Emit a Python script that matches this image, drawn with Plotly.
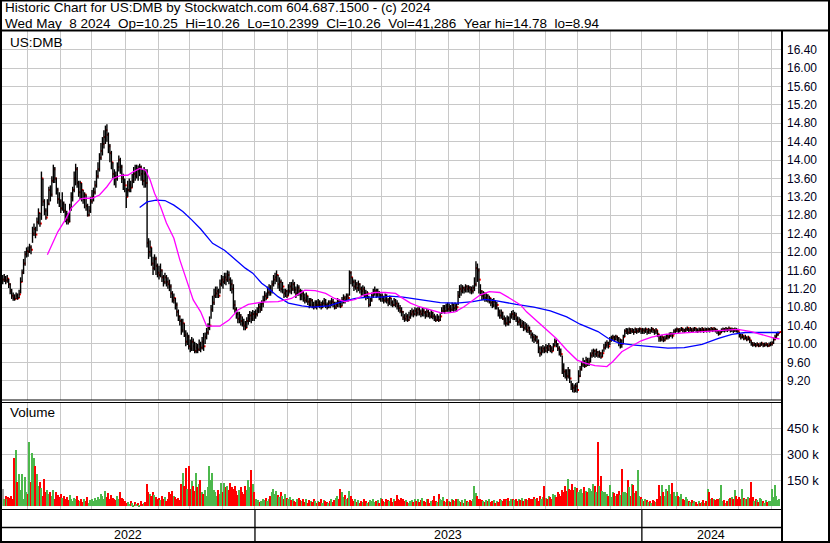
import pandas as pd
import plotly.graph_objects as go

W, H = 830, 543

# one bar per business day, 9 May 2022 .. 8 May 2024
dates = pd.bdate_range("2022-05-09", "2024-05-08")

close = [
    11.40, 11.45, 11.38, 11.42, 11.30, 11.15, 11.05, 11.00, 10.98, 11.05, 11.00, 11.08, 11.35, 11.55, 11.75, 11.95, 12.02,
    12.00, 12.10, 12.05, 12.40, 12.50, 12.38, 12.65, 12.85, 12.62, 13.60, 13.10, 12.90, 12.75, 13.05, 13.35, 13.25, 13.55, 13.80, 13.60, 13.35, 13.15, 13.10,
    12.95, 13.05, 12.90, 12.75, 12.70, 12.66, 12.95, 13.20, 13.35, 13.60, 13.80, 13.50, 13.30, 13.50, 13.35, 13.15, 13.25, 13.00, 12.80, 12.90, 13.10,
    13.20, 13.30, 13.45, 13.65, 13.80, 14.05, 14.20, 14.35, 14.50, 14.65, 14.55, 14.30, 14.15, 13.95, 13.70, 13.65, 13.60, 13.85, 14.00, 13.85, 13.60, 13.50, 13.45,
    13.20, 13.35, 13.45, 13.40, 13.55, 13.70, 13.65, 13.80, 13.75, 13.85, 13.70, 13.55, 13.70, 13.50, 12.20, 12.00, 12.10, 11.75, 11.65, 11.85, 11.70, 11.55,
    11.50, 11.60, 11.45, 11.35, 11.45, 11.35, 11.30, 11.25, 11.10, 10.95, 11.00, 10.85, 10.70, 10.60, 10.50, 10.30, 10.45, 10.20, 10.05, 10.15, 9.95,
    9.90, 10.05, 9.95, 9.85, 9.92, 9.88, 10.00, 9.92, 10.05, 9.95, 10.15, 10.25, 10.35, 10.40, 10.75, 10.90, 11.05, 11.10, 11.15, 11.05, 11.30, 11.40,
    11.35, 11.45, 11.40, 11.50, 11.40, 11.30, 11.20, 10.85, 10.75, 10.65, 10.55, 10.60, 10.50, 10.45, 10.40, 10.35, 10.50, 10.55, 10.62, 10.55, 10.65, 10.60,
    10.65, 10.72, 10.80, 10.75, 10.88, 10.95, 11.05, 11.00, 11.12, 11.20, 11.15, 11.30, 11.40, 11.45, 11.50, 11.30, 11.35, 11.20, 11.25, 11.10, 11.15, 11.05,
    11.15, 11.25, 11.20, 11.30, 11.18, 11.10, 11.22, 11.15, 11.05, 11.10, 11.00, 10.95, 11.05, 10.92, 10.85, 10.95, 10.85, 10.80, 10.90, 10.85,
    10.90, 10.85, 10.80, 10.88, 10.95, 10.85, 10.80, 10.90, 10.85, 10.92, 10.88, 10.80, 10.85, 10.92, 10.88, 10.82, 10.95, 11.00, 10.95, 11.05, 11.00, 11.55, 11.45,
    11.35, 11.25, 11.30, 11.22, 11.30, 11.20, 11.15, 11.20, 11.10, 11.05, 11.10, 10.85, 10.95, 11.05, 11.10, 11.15, 11.08, 11.12, 11.00, 11.05,
    11.00, 10.95, 11.05, 10.95, 10.90, 11.00, 10.90, 10.85, 10.95, 10.88, 10.82, 10.78, 10.72, 10.70, 10.58, 10.55, 10.60, 10.52, 10.58, 10.65, 10.70, 10.65, 10.72,
    10.68, 10.75, 10.70, 10.65, 10.72, 10.68, 10.62, 10.70, 10.65, 10.60, 10.68, 10.60, 10.56, 10.52, 10.58, 10.52, 10.60, 10.72, 10.78, 10.72, 10.82, 10.76,
    10.80, 10.75, 10.85, 10.78, 10.82, 10.80, 11.05, 11.20, 11.15, 11.22, 11.18, 11.25, 11.20, 11.22, 11.18, 11.15, 11.22, 11.30, 11.65, 11.60, 11.40,
    11.15, 11.05, 11.10, 11.00, 11.05, 10.95, 11.00, 10.90, 10.85, 10.92, 10.82, 10.85, 10.70, 10.62, 10.68, 10.55, 10.50, 10.45, 10.55, 10.48, 10.60, 10.65, 10.58,
    10.62, 10.55, 10.48, 10.52, 10.40, 10.45, 10.35, 10.40, 10.30, 10.35, 10.28, 10.20, 10.15, 10.10, 10.15, 10.05, 9.90, 9.80, 9.85, 9.90, 9.85,
    9.92, 9.88, 9.95, 9.90, 9.85, 9.95, 10.05, 10.00, 9.90, 9.82, 9.78, 9.45, 9.40, 9.35, 9.30, 9.42, 9.25, 9.10, 9.05, 8.98, 9.08, 9.00,
    9.30, 9.45, 9.55, 9.60, 9.52, 9.65, 9.58, 9.62, 9.75, 9.80, 9.85, 9.78, 9.82, 9.75, 9.80, 9.72, 9.80, 9.92, 9.98, 10.02, 9.95, 10.08,
    10.12, 10.15, 10.10, 10.16, 10.12, 10.02, 10.08, 10.00, 10.15, 10.28, 10.30, 10.25, 10.32, 10.28, 10.30, 10.26, 10.32, 10.28, 10.30, 10.33, 10.28,
    10.30, 10.28, 10.32, 10.26, 10.30, 10.28, 10.33, 10.30, 10.27, 10.30, 10.22, 10.12, 10.10, 10.15, 10.08, 10.12, 10.18, 10.15, 10.20, 10.22, 10.18, 10.28, 10.30,
    10.32, 10.28, 10.30, 10.34, 10.30, 10.28, 10.32, 10.35, 10.30, 10.33, 10.29, 10.31, 10.34, 10.30, 10.28, 10.32, 10.30, 10.33, 10.29, 10.31, 10.30,
    10.32, 10.30, 10.34, 10.31, 10.33, 10.30, 10.28, 10.22, 10.25, 10.30, 10.32, 10.30, 10.33, 10.31, 10.34, 10.30, 10.32, 10.29, 10.31, 10.30, 10.28,
    10.20, 10.15, 10.18, 10.12, 10.15, 10.10, 10.14, 10.08, 10.02, 9.98, 10.00, 9.97, 10.00, 9.96, 9.99, 10.01, 9.97, 9.98, 10.00, 9.96, 9.98, 10.00,
    10.02, 10.10, 10.15, 10.20, 10.24, 10.26,
]

high = [
    11.50, 11.52, 11.48, 11.50, 11.42, 11.32, 11.20, 11.12, 11.08, 11.12, 11.10, 11.18, 11.45, 11.62, 11.85, 12.02, 12.10,
    12.12, 12.18, 12.15, 12.55, 12.62, 12.55, 12.75, 12.95, 12.85, 13.75, 13.60, 13.15, 12.95, 13.15, 13.42, 13.45, 13.65, 13.90, 13.85, 13.62, 13.40, 13.30,
    13.15, 13.30, 13.10, 13.05, 12.90, 12.85, 13.05, 13.30, 13.42, 13.75, 13.92, 13.85, 13.55, 13.55, 13.50, 13.35, 13.30, 13.25, 13.05, 13.00, 13.20,
    13.35, 13.40, 13.55, 13.78, 13.95, 14.15, 14.37, 14.50, 14.65, 14.75, 14.78, 14.60, 14.35, 14.20, 13.95, 13.80, 13.75, 13.95, 14.10, 14.05, 13.90, 13.70, 13.60,
    13.40, 13.55, 13.60, 13.55, 13.70, 13.85, 13.90, 13.90, 13.88, 13.92, 13.88, 13.80, 13.85, 13.80, 13.80, 12.30, 12.25, 12.10, 11.90, 11.95, 11.90, 11.75,
    11.70, 11.75, 11.62, 11.50, 11.55, 11.50, 11.45, 11.40, 11.30, 11.15, 11.10, 11.00, 10.90, 10.75, 10.62, 10.55, 10.55, 10.45, 10.30, 10.25, 10.20,
    10.10, 10.15, 10.12, 10.05, 10.02, 10.00, 10.10, 10.05, 10.15, 10.24, 10.25, 10.35, 10.45, 10.60, 10.85, 11.05, 11.20, 11.25, 11.25, 11.20, 11.40, 11.50,
    11.48, 11.55, 11.55, 11.60, 11.58, 11.45, 11.40, 11.30, 10.95, 10.80, 10.70, 10.70, 10.65, 10.60, 10.55, 10.50, 10.58, 10.65, 10.72, 10.70, 10.74, 10.72,
    10.75, 10.80, 10.88, 10.90, 10.95, 11.05, 11.15, 11.12, 11.25, 11.30, 11.28, 11.38, 11.50, 11.55, 11.60, 11.50, 11.45, 11.40, 11.35, 11.20, 11.20, 11.18,
    11.30, 11.35, 11.35, 11.40, 11.35, 11.25, 11.30, 11.28, 11.20, 11.18, 11.15, 11.10, 11.12, 11.05, 11.00, 11.00, 10.98, 10.92, 10.95, 10.95,
    10.98, 10.95, 10.92, 10.95, 11.00, 10.98, 10.90, 10.95, 10.95, 11.00, 10.98, 10.92, 10.92, 11.00, 10.98, 10.95, 11.02, 11.08, 11.05, 11.10, 11.10, 11.60, 11.58,
    11.45, 11.40, 11.40, 11.35, 11.38, 11.32, 11.25, 11.28, 11.25, 11.18, 11.15, 11.05, 11.00, 11.12, 11.20, 11.25, 11.20, 11.20, 11.15, 11.10,
    11.10, 11.05, 11.10, 11.08, 11.00, 11.05, 11.00, 10.95, 11.00, 10.98, 10.95, 10.90, 10.85, 10.80, 10.72, 10.65, 10.68, 10.65, 10.70, 10.74, 10.78, 10.75, 10.80,
    10.78, 10.80, 10.80, 10.75, 10.80, 10.78, 10.72, 10.76, 10.75, 10.70, 10.74, 10.70, 10.66, 10.62, 10.65, 10.62, 10.67, 10.80, 10.85, 10.85, 10.88, 10.90,
    10.88, 10.85, 10.90, 10.88, 10.90, 10.88, 11.15, 11.28, 11.30, 11.28, 11.25, 11.30, 11.28, 11.28, 11.26, 11.25, 11.28, 11.45, 11.80, 11.75, 11.65,
    11.30, 11.17, 11.15, 11.12, 11.10, 11.08, 11.05, 11.00, 10.98, 11.00, 10.95, 10.92, 10.80, 10.75, 10.75, 10.70, 10.62, 10.58, 10.62, 10.60, 10.67, 10.72, 10.74,
    10.70, 10.68, 10.60, 10.58, 10.55, 10.52, 10.50, 10.48, 10.45, 10.42, 10.38, 10.30, 10.25, 10.22, 10.20, 10.18, 10.10, 9.95, 9.95, 9.98, 9.95,
    10.00, 9.98, 10.02, 9.98, 9.95, 10.02, 10.12, 10.10, 10.02, 9.95, 9.90, 9.75, 9.58, 9.45, 9.45, 9.50, 9.45, 9.20, 9.15, 9.12, 9.15, 9.17,
    9.43, 9.52, 9.62, 9.70, 9.65, 9.72, 9.70, 9.70, 9.82, 9.88, 9.90, 9.88, 9.90, 9.85, 9.86, 9.82, 9.88, 10.00, 10.05, 10.08, 10.05, 10.15,
    10.18, 10.20, 10.18, 10.20, 10.18, 10.15, 10.12, 10.10, 10.20, 10.32, 10.35, 10.34, 10.36, 10.34, 10.35, 10.33, 10.36, 10.34, 10.35, 10.36, 10.34,
    10.35, 10.34, 10.36, 10.33, 10.35, 10.33, 10.37, 10.35, 10.32, 10.35, 10.30, 10.22, 10.18, 10.20, 10.16, 10.18, 10.22, 10.22, 10.25, 10.26, 10.25, 10.32, 10.34,
    10.36, 10.34, 10.35, 10.37, 10.35, 10.33, 10.36, 10.38, 10.35, 10.37, 10.34, 10.36, 10.37, 10.35, 10.34, 10.36, 10.35, 10.37, 10.34, 10.36, 10.35,
    10.36, 10.35, 10.37, 10.35, 10.37, 10.35, 10.33, 10.30, 10.30, 10.34, 10.36, 10.35, 10.37, 10.35, 10.38, 10.35, 10.36, 10.34, 10.36, 10.35, 10.33,
    10.26, 10.22, 10.22, 10.18, 10.20, 10.16, 10.18, 10.14, 10.08, 10.04, 10.04, 10.02, 10.04, 10.01, 10.03, 10.05, 10.02, 10.03, 10.04, 10.01, 10.03, 10.05,
    10.06, 10.14, 10.20, 10.24, 10.27, 10.26,
]

low = [
    11.30, 11.35, 11.30, 11.33, 11.22, 11.08, 10.98, 10.94, 10.94, 10.98, 10.96, 11.00, 11.10, 11.35, 11.52, 11.70, 11.88,
    11.90, 11.98, 11.95, 12.20, 12.35, 12.30, 12.45, 12.60, 12.55, 12.70, 13.00, 12.80, 12.70, 12.78, 13.02, 13.10, 13.20, 13.50, 13.50, 13.25, 13.05, 12.98,
    12.85, 12.90, 12.85, 12.65, 12.60, 12.60, 12.65, 12.90, 13.10, 13.30, 13.45, 13.40, 13.20, 13.15, 13.10, 13.05, 12.95, 12.90, 12.77, 12.78, 12.85,
    13.05, 13.10, 13.25, 13.40, 13.60, 13.75, 14.00, 14.10, 14.25, 14.35, 14.40, 14.15, 13.95, 13.80, 13.60, 13.45, 13.40, 13.55, 13.75, 13.70, 13.50, 13.35, 13.30,
    12.96, 13.20, 13.30, 13.30, 13.40, 13.50, 13.55, 13.60, 13.55, 13.65, 13.55, 13.45, 13.40, 13.40, 12.10, 11.85, 11.90, 11.70, 11.50, 11.60, 11.50, 11.45,
    11.40, 11.45, 11.35, 11.25, 11.30, 11.25, 11.20, 11.15, 11.00, 10.90, 10.88, 10.75, 10.60, 10.50, 10.40, 10.20, 10.25, 10.15, 9.95, 9.98, 9.88,
    9.82, 9.85, 9.85, 9.80, 9.80, 9.80, 9.85, 9.82, 9.88, 9.85, 10.00, 10.10, 10.20, 10.30, 10.55, 10.70, 10.85, 11.00, 11.00, 11.00, 11.10, 11.25,
    11.20, 11.30, 11.28, 11.35, 11.30, 11.15, 11.10, 10.75, 10.68, 10.55, 10.45, 10.45, 10.40, 10.38, 10.30, 10.30, 10.35, 10.42, 10.48, 10.45, 10.50, 10.50,
    10.55, 10.60, 10.67, 10.68, 10.72, 10.80, 10.92, 10.95, 11.00, 11.05, 11.05, 11.10, 11.25, 11.30, 11.35, 11.20, 11.15, 11.12, 11.10, 11.00, 11.02, 11.00,
    11.05, 11.10, 11.08, 11.15, 11.10, 11.00, 11.05, 11.05, 10.95, 10.95, 10.92, 10.88, 10.90, 10.85, 10.78, 10.80, 10.78, 10.75, 10.78, 10.75,
    10.80, 10.78, 10.75, 10.78, 10.82, 10.78, 10.75, 10.78, 10.78, 10.82, 10.80, 10.75, 10.76, 10.80, 10.80, 10.78, 10.82, 10.88, 10.88, 10.92, 10.92, 11.05, 11.30,
    11.25, 11.15, 11.18, 11.12, 11.15, 11.10, 11.05, 11.05, 11.00, 10.95, 10.98, 10.80, 10.82, 10.92, 11.00, 11.05, 11.00, 11.02, 10.95, 10.92,
    10.92, 10.88, 10.90, 10.88, 10.82, 10.85, 10.82, 10.80, 10.82, 10.80, 10.75, 10.70, 10.67, 10.60, 10.52, 10.48, 10.50, 10.48, 10.50, 10.55, 10.60, 10.58, 10.62,
    10.60, 10.62, 10.62, 10.58, 10.60, 10.60, 10.55, 10.58, 10.58, 10.55, 10.56, 10.54, 10.50, 10.48, 10.50, 10.48, 10.50, 10.65, 10.68, 10.66, 10.70, 10.70,
    10.70, 10.68, 10.72, 10.70, 10.72, 10.70, 10.85, 11.00, 11.05, 11.10, 11.10, 11.12, 11.12, 11.12, 11.10, 11.08, 11.10, 11.15, 11.25, 11.35, 11.10,
    11.05, 10.95, 10.95, 10.92, 10.92, 10.90, 10.88, 10.82, 10.78, 10.80, 10.75, 10.75, 10.60, 10.55, 10.55, 10.52, 10.42, 10.38, 10.40, 10.40, 10.45, 10.55, 10.52,
    10.52, 10.48, 10.40, 10.40, 10.35, 10.35, 10.28, 10.30, 10.25, 10.24, 10.20, 10.12, 10.05, 10.02, 10.05, 10.00, 9.80, 9.72, 9.75, 9.80, 9.80,
    9.82, 9.80, 9.85, 9.82, 9.80, 9.85, 9.95, 9.93, 9.85, 9.75, 9.72, 9.35, 9.28, 9.25, 9.20, 9.25, 9.15, 9.00, 8.95, 8.94, 8.95, 8.94,
    9.15, 9.28, 9.42, 9.50, 9.48, 9.50, 9.52, 9.52, 9.60, 9.70, 9.72, 9.70, 9.72, 9.70, 9.70, 9.68, 9.72, 9.83, 9.88, 9.92, 9.90, 9.98,
    10.05, 10.08, 10.05, 10.08, 10.05, 9.95, 9.90, 9.92, 10.00, 10.15, 10.22, 10.20, 10.22, 10.22, 10.24, 10.20, 10.24, 10.22, 10.24, 10.25, 10.22,
    10.22, 10.22, 10.24, 10.20, 10.22, 10.22, 10.25, 10.24, 10.20, 10.22, 10.15, 10.05, 10.05, 10.06, 10.04, 10.06, 10.10, 10.10, 10.12, 10.15, 10.12, 10.20, 10.24,
    10.26, 10.24, 10.25, 10.28, 10.25, 10.24, 10.26, 10.28, 10.25, 10.27, 10.24, 10.26, 10.28, 10.25, 10.24, 10.26, 10.25, 10.27, 10.24, 10.26, 10.25,
    10.26, 10.25, 10.28, 10.26, 10.27, 10.25, 10.22, 10.18, 10.20, 10.24, 10.26, 10.25, 10.27, 10.26, 10.28, 10.25, 10.26, 10.24, 10.26, 10.25, 10.22,
    10.14, 10.10, 10.12, 10.08, 10.10, 10.06, 10.08, 10.02, 9.96, 9.94, 9.95, 9.93, 9.95, 9.93, 9.94, 9.96, 9.93, 9.94, 9.95, 9.93, 9.94, 9.95,
    9.96, 10.00, 10.08, 10.14, 10.18, 10.24,
]

# daily volume, thousands of shares
volume_k = [
    100, 45, 60, 40, 55, 50, 60, 45, 280, 325, 140, 185, 95, 185, 45, 170, 85,
    70, 373, 140, 305, 277, 230, 185, 120, 140, 104, 60, 160, 80, 95, 70, 85, 60, 95, 45, 80, 65, 55,
    70, 50, 60, 40, 55, 35, 65, 45, 30, 50, 40, 60, 35, 30, 45, 25, 40, 30, 55, 20, 35,
    45, 30, 50, 35, 55, 40, 70, 60, 45, 90, 55, 75, 40, 65, 50, 45, 35, 60, 45, 85, 50, 40, 30,
    20, 25, 15, 30, 20, 10, 25, 15, 20, 10, 30, 15, 20, 25, 130, 85, 70, 60, 80, 65, 55, 45,
    50, 35, 60, 40, 55, 30, 45, 85, 70, 90, 60, 55, 40, 50, 35, 130, 195, 120, 220, 100, 230,
    100, 145, 120, 90, 195, 110, 130, 150, 85, 70, 95, 60, 110, 235, 150, 190, 95, 80, 60, 95, 70, 135,
    85, 135, 110, 120, 95, 135, 110, 100, 120, 90, 65, 95, 110, 80, 70, 120, 95, 150, 110, 210, 130, 80,
    40, 20, 35, 25, 30, 45, 35, 50, 30, 40, 60, 85, 100, 70, 90, 65, 55, 80, 60, 45, 70, 50,
    40, 55, 35, 45, 30, 25, 40, 50, 35, 30, 45, 25, 40, 20, 35, 30, 25, 40, 30, 20,
    30, 25, 40, 20, 35, 30, 25, 20, 30, 40, 25, 35, 50, 60, 40, 100, 85, 55, 65, 40, 50, 90, 60,
    45, 30, 40, 25, 35, 20, 30, 25, 40, 30, 20, 25, 35, 30, 40, 25, 30, 35, 20, 50,
    40, 30, 25, 45, 35, 30, 50, 25, 40, 30, 65, 45, 35, 50, 40, 30, 35, 25, 20, 30, 35, 25, 45,
    30, 40, 25, 35, 50, 30, 25, 40, 45, 20, 30, 35, 60, 30, 25, 70, 40, 35, 55, 30, 25, 40,
    30, 25, 40, 35, 30, 45, 40, 30, 25, 35, 20, 40, 30, 25, 35, 30, 40, 120, 75, 60, 45,
    40, 35, 30, 25, 35, 30, 40, 25, 30, 35, 20, 30, 25, 40, 35, 30, 45, 40, 35, 50, 30, 45, 40,
    35, 40, 30, 45, 35, 50, 30, 40, 45, 35, 50, 40, 45, 55, 40, 50, 30, 60, 45, 55, 120,
    50, 45, 60, 55, 40, 70, 65, 55, 80, 70, 60, 95, 85, 120, 90, 160, 100, 95, 130, 95, 110, 105,
    80, 95, 100, 75, 110, 90, 80, 105, 100, 90, 130, 115, 85, 370, 120, 175, 90, 80, 85, 70, 60, 125,
    55, 80, 75, 60, 70, 90, 65, 215, 85, 80, 75, 150, 110, 60, 130, 125, 75, 90, 210, 60, 55,
    40, 30, 45, 35, 25, 30, 20, 35, 30, 25, 45, 125, 60, 125, 80, 60, 100, 90, 125, 70, 135, 80, 60,
    85, 60, 55, 70, 40, 35, 55, 45, 30, 25, 35, 20, 30, 25, 15, 30, 20, 25, 35, 20, 30,
    100, 85, 40, 50, 45, 35, 40, 45, 50, 125, 30, 35, 20, 30, 40, 50, 55, 45, 95, 60, 45,
    55, 40, 100, 50, 45, 40, 55, 50, 140, 55, 30, 45, 35, 25, 50, 40, 30, 20, 35, 25, 30, 30,
    100, 55, 125, 60, 35, 41.286,
]

# moving averages (bar number, price)
fast_ma_bar = [30, 34, 37, 42, 46, 52, 55, 60, 65, 70, 74, 80, 84, 88, 92, 96, 99, 102, 106, 110,
               115, 119, 124, 128, 133, 137, 146, 152, 158, 165, 174, 185, 194, 199, 203, 210, 217, 223, 230, 237,
               243, 250, 257, 264, 267, 274, 280, 287, 294, 298, 304, 310, 315, 321, 327, 334, 341, 348, 352, 359,
               366, 372, 379, 386, 392, 398, 406, 410, 416, 423, 429, 436, 445, 458, 472, 485, 494, 503, 512, 519, 522]
fast_ma = [11.94, 12.22, 12.44, 12.70, 12.95, 13.15, 13.17, 13.17, 13.24, 13.42, 13.60, 13.67, 13.67, 13.75, 13.82, 13.78, 13.57, 13.28, 12.99, 12.63,
           12.30, 11.83, 11.32, 10.96, 10.70, 10.39, 10.39, 10.52, 10.74, 10.86, 10.91, 10.92, 10.99, 11.10, 11.17, 11.16, 11.10, 10.99, 10.92, 10.97,
           11.07, 11.12, 11.12, 11.10, 11.03, 10.89, 10.81, 10.75, 10.68, 10.67, 10.70, 10.81, 10.92, 11.07, 11.14, 11.12, 10.99, 10.85, 10.70, 10.49,
           10.30, 10.12, 9.87, 9.65, 9.58, 9.53, 9.51, 9.62, 9.83, 9.96, 10.07, 10.15, 10.21, 10.24, 10.27, 10.30, 10.32, 10.27, 10.18, 10.12, 10.11]
slow_ma_bar = [92, 97, 103, 109, 115, 121, 127, 133, 141, 149, 163, 168, 174, 177, 185, 192, 201, 208, 219, 228,
               237, 246, 255, 260, 269, 283, 294, 305, 316, 324, 332, 345, 357, 368, 379, 388, 395, 400, 407, 414,
               423, 436, 447, 458, 470, 481, 490, 499, 512, 522]
slow_ma = [12.97, 13.09, 13.13, 13.12, 13.02, 12.88, 12.70, 12.50, 12.19, 12.04, 11.65, 11.54, 11.32, 11.25, 11.03, 10.89, 10.83, 10.80, 10.83, 10.92,
           10.99, 11.02, 11.02, 11.04, 11.02, 10.96, 10.90, 10.89, 10.92, 10.97, 10.94, 10.86, 10.80, 10.72, 10.59, 10.43, 10.34, 10.27, 10.12, 10.02,
           9.98, 9.94, 9.91, 9.92, 9.99, 10.12, 10.21, 10.25, 10.25, 10.25]

price_ticks = [9.2, 9.6, 10.0, 10.4, 10.8, 11.2, 11.6, 12.0, 12.4, 12.8, 13.2, 13.6, 14.0, 14.4, 14.8, 15.2, 15.6, 16.0, 16.4]
volume_ticks = [150, 300, 450]
volume_tick_text = ["150 k", "300 k", "450 k"]

header_1 = "Historic Chart for US:DMB by Stockwatch.com 604.687.1500 - (c) 2024"
header_2 = ("Wed May\u00a0\u00a08 2024\u00a0\u00a0Op=10.25\u00a0\u00a0Hi=10.26\u00a0\u00a0Lo=10.2399\u00a0\u00a0"
            "Cl=10.26\u00a0\u00a0Vol=41,286\u00a0\u00a0Year hi=14.78\u00a0\u00a0lo=8.94")

FONT = "Liberation Sans, Arial, sans-serif"
GRID = "#c8c8c8"

n = min(len(dates), len(close), len(high), len(low), len(volume_k))
bars = list(range(n))


def fx(p):
    return p / W


def fy(p):
    return 1 - p / H


# high-low sticks as one broken line
stick_x, stick_y = [], []
for i in bars:
    stick_x += [i, i, None]
    stick_y += [low[i], high[i], None]

vol_colors = []
for i in bars:
    prev = close[i - 1] if i else close[i]
    if close[i] > prev:
        vol_colors.append("#4cb84c")
    elif close[i] < prev:
        vol_colors.append("#ff0000")
    else:
        vol_colors.append("#a8a8a8")

month_lines = [i - 0.5 for i in range(1, n) if dates[i].month != dates[i - 1].month]
year_first = {}
year_last = {}
for i in bars:
    y = dates[i].year
    year_first.setdefault(y, i)
    year_last[y] = i

fig = go.Figure()

# close marks sit just right of each stick; the next stick covers many of them
fig.add_trace(go.Scatter(
    x=[i + 0.6 for i in bars], y=close[:n], mode="markers",
    marker=dict(symbol="square", size=2, color="#ff0000", line=dict(width=0)),
    hoverinfo="skip"
))
fig.add_trace(go.Scatter(
    x=stick_x, y=stick_y, mode="lines",
    line=dict(color="#000000", width=1.4), hoverinfo="skip"
))
fig.add_trace(go.Scatter(
    x=slow_ma_bar, y=slow_ma, mode="lines",
    line=dict(color="#0000ff", width=1.3), hoverinfo="skip"
))
fig.add_trace(go.Scatter(
    x=fast_ma_bar, y=fast_ma, mode="lines",
    line=dict(color="#ff00ff", width=1.3), hoverinfo="skip"
))
fig.add_trace(go.Bar(
    x=bars, y=volume_k[:n], width=0.95,
    marker=dict(color=vol_colors, line=dict(width=0)),
    xaxis="x2", yaxis="y2", hoverinfo="skip"
))

xgrid = dict(
    range=[-0.5, n], tickmode="array", tickvals=month_lines,
    showticklabels=False, ticks="", showgrid=True, gridcolor=GRID, gridwidth=1,
    zeroline=False, showline=False
)

shapes = []


def hline(y, x0=0, x1=782, w=1):
    shapes.append(dict(type="line", xref="paper", yref="paper",
                       x0=fx(x0), x1=fx(x1), y0=fy(y), y1=fy(y),
                       line=dict(color="black", width=w)))


shapes.append(dict(type="rect", xref="paper", yref="paper",
                   x0=fx(1), x1=fx(829), y0=fy(542), y1=fy(0.5),
                   line=dict(color="black", width=2)))
hline(30.5, 0, 830, 2)
hline(400)
hline(402.5)
hline(509.5)
hline(527.5, w=1.3)
shapes.append(dict(type="line", xref="paper", yref="paper",
                   x0=fx(782), x1=fx(782), y0=fy(31), y1=fy(543),
                   line=dict(color="black", width=2)))

annotations = [
    dict(text=header_1, x=fx(3), y=fy(7.5), xanchor="left", yanchor="middle"),
    dict(text=header_2, x=fx(3), y=fy(23.5), xanchor="left", yanchor="middle"),
    dict(text="US:DMB", x=fx(8), y=fy(42), xanchor="left", yanchor="middle"),
    dict(text="Volume", x=fx(8), y=fy(413), xanchor="left", yanchor="middle"),
]
for a in annotations:
    a.update(xref="paper", yref="paper", showarrow=False,
             font=dict(family=FONT, size=13.5, color="#000000"))

for y in sorted(year_first):
    first, last = year_first[y], year_last[y]
    if y != min(year_first):
        shapes.append(dict(type="line", xref="x", yref="paper",
                           x0=first - 0.5, x1=first - 0.5, y0=fy(510), y1=fy(541),
                           line=dict(color="black", width=1.3)))
    annotations.append(dict(text=str(y), x=(first + last) / 2, y=fy(535),
                            xref="x", yref="paper", showarrow=False,
                            xanchor="center", yanchor="middle",
                            font=dict(family=FONT, size=12.5, color="#000000")))

fig.update_layout(
    width=W, height=H, autosize=False,
    margin=dict(l=0, r=0, t=0, b=0),
    paper_bgcolor="white", plot_bgcolor="white",
    showlegend=False, hovermode=False,
    font=dict(family=FONT, color="#000000"),
    xaxis=dict(domain=[fx(2), fx(781)], anchor="y", **xgrid),
    xaxis2=dict(domain=[fx(2), fx(781)], anchor="y2", matches="x", **xgrid),
    yaxis=dict(
        domain=[fy(400), fy(31)], anchor="x", range=[8.782, 16.807],
        tickmode="array", tickvals=price_ticks,
        ticktext=["%.2f" % t for t in price_ticks],
        side="right", ticks="", ticklabelstandoff=5,
        showgrid=True, gridcolor=GRID, gridwidth=1, zeroline=False, showline=False,
        tickfont=dict(family=FONT, size=12, color="#000020")
    ),
    yaxis2=dict(
        domain=[fy(509), fy(403)], anchor="x2", range=[-15.6, 596],
        tickmode="array", tickvals=volume_ticks, ticktext=volume_tick_text,
        side="right", ticks="", ticklabelstandoff=5,
        showgrid=True, gridcolor=GRID, gridwidth=1, zeroline=False, showline=False,
        tickfont=dict(family=FONT, size=13, color="#000020")
    ),
    bargap=0,
    shapes=shapes,
    annotations=annotations,
)

# the page's default body margin would push the 830x543 figure off the window
fig.write_html("out.html", config={"displayModeBar": False},
               post_script="document.body.style.margin='0';document.body.style.overflow='hidden';")
